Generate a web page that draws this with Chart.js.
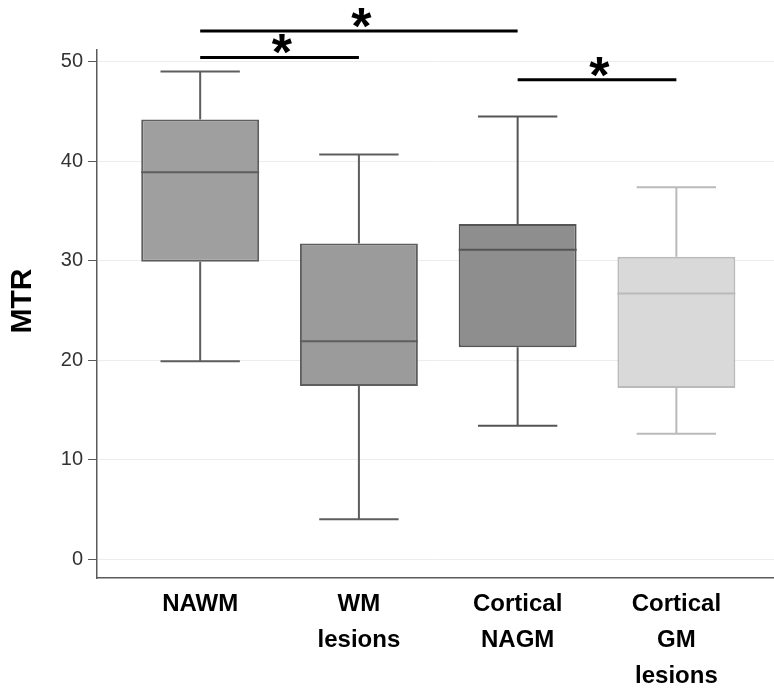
<!DOCTYPE html>
<html><head><meta charset="utf-8">
<script src="https://cdn.jsdelivr.net/npm/chart.js@4"></script>
<style>html,body{margin:0;padding:0;background:#fff}#wrap{width:774px;height:693px;position:relative}</style>
</head><body><div id="wrap"><canvas id="c"></canvas></div>
<script>
// ---- data ----
const categories = ['NAWM', 'WM lesions', 'Cortical NAGM', 'Cortical GM lesions'];
const tickLabels = [['NAWM'], ['WM', 'lesions'], ['Cortical', 'NAGM'], ['Cortical', 'GM', 'lesions']];
const whiskerMin = [19.9, 4.0, 13.4, 12.6];
const q1 = [29.9, 17.4, 21.3, 17.2];
const median = [38.9, 21.9, 31.1, 26.7];
const q3 = [44.2, 31.75, 33.7, 30.4];
const whiskerMax = [49.05, 40.7, 44.5, 37.4];
const yTicks = [0, 10, 20, 30, 40, 50];
const yTitle = 'MTR';
const sigStart = ['NAWM', 'NAWM', 'Cortical NAGM'];
const sigEnd = ['Cortical NAGM', 'WM lesions', 'Cortical GM lesions'];
const sigLevel = [53.1, 50.45, 48.2];
const sigMark = ['*', '*', '*'];

// ---- style ----
const fills = ['#9f9f9f', '#9b9b9b', '#8e8e8e', '#d9d9d9'];
const strokes = ['#5e5e5e', '#5e5e5e', '#555555', '#bababa'];
const BOX_HALF = 0.3715, CAP_HALF = 0.25;
const FONT = '"Liberation Sans", Arial, Helvetica, sans-serif';

const pos = name => categories.indexOf(name) + 1;
const gap = x => ({x: x, y: null});

const whiskerSets = categories.map((c, i) => {
  const x = i + 1;
  return {
    type: 'line',
    data: [
      {x: x, y: q3[i]}, {x: x, y: whiskerMax[i]}, gap(x),
      {x: x - CAP_HALF, y: whiskerMax[i]}, {x: x + CAP_HALF, y: whiskerMax[i]}, gap(x),
      {x: x, y: q1[i]}, {x: x, y: whiskerMin[i]}, gap(x),
      {x: x - CAP_HALF, y: whiskerMin[i]}, {x: x + CAP_HALF, y: whiskerMin[i]}, gap(x),
      {x: x - BOX_HALF, y: median[i]}, {x: x + BOX_HALF, y: median[i]}
    ],
    borderColor: strokes[i], borderWidth: 2, pointRadius: 0, spanGaps: false,
    tension: 0, fill: false, order: 1, borderCapStyle: 'butt'
  };
});

const sigData = [];
sigLevel.forEach((lv, k) => {
  sigData.push({x: pos(sigStart[k]), y: lv}, {x: pos(sigEnd[k]), y: lv}, gap(pos(sigEnd[k])));
});

const textPlugin = {
  id: 'texts',
  afterDatasetsDraw(chart) {
    const ctx = chart.ctx, xs = chart.scales.x, ys = chart.scales.y, ca = chart.chartArea;
    ctx.save();
    ctx.font = 'bold 52px ' + FONT;
    ctx.fillStyle = '#000';
    ctx.textAlign = 'center';
    ctx.textBaseline = 'alphabetic';
    sigLevel.forEach((lv, k) => {
      const xm = xs.getPixelForValue((pos(sigStart[k]) + pos(sigEnd[k])) / 2 + 0.015);
      const ly = ys.getPixelForValue(lv);
      const m = ctx.measureText(sigMark[k]);
      const base = ly - 3 - m.actualBoundingBoxDescent;
      ctx.fillText(sigMark[k], xm, base);
    });
    // y-axis title
    ctx.font = 'bold 30px ' + FONT;
    ctx.textBaseline = 'middle';
    ctx.translate(ca.left - 74.5, (ca.top + ca.bottom) / 2 - 13);
    ctx.rotate(-Math.PI / 2);
    ctx.fillText(yTitle, 0, 0);
    ctx.restore();
  }
};

new Chart(document.getElementById('c'), {
  type: 'line',
  data: {
    datasets: [
      {
        type: 'bar',
        data: categories.map((c, i) => ({x: i + 1, y: [q1[i], q3[i]]})),
        backgroundColor: fills, borderColor: strokes, borderWidth: 2,
        borderSkipped: false, barPercentage: 2 * BOX_HALF, categoryPercentage: 1, order: 3
      },
      ...whiskerSets,
      {
        type: 'line', data: sigData, borderColor: '#000', borderWidth: 3,
        pointRadius: 0, spanGaps: false, clip: false, order: 0, borderCapStyle: 'butt'
      }
    ]
  },
  options: {
    responsive: true, maintainAspectRatio: false, animation: false,
    layout: {padding: {top: 50, right: 0, left: 0, bottom: 0}},
    plugins: {legend: {display: false}, tooltip: {enabled: false}},
    scales: {
      x: {
        type: 'linear', min: 0.35, max: 4.615, offset: false,
        afterBuildTicks: s => { s.ticks = categories.map((c, i) => ({value: i + 1})); },
        afterFit: s => { s.height = 115; },
        ticks: {
          autoSkip: false, maxRotation: 0, minRotation: 0, padding: 8, color: '#000',
          font: {family: FONT, size: 24, weight: 'bold', lineHeight: 1.5},
          callback: (v, idx) => tickLabels[idx]
        },
        grid: {display: false, drawTicks: false},
        border: {display: true, color: '#5a5a5a', width: 1.5}
      },
      y: {
        type: 'linear', min: -1.9, max: 51.2,
        afterBuildTicks: s => { s.ticks = yTicks.map(v => ({value: v})); },
        afterFit: s => { s.width = 97; },
        ticks: {padding: 5, color: '#333', font: {family: FONT, size: 20}},
        grid: {color: '#ececec', lineWidth: 1, tickLength: 9, tickColor: '#5a5a5a', drawTicks: true},
        border: {display: true, color: '#5a5a5a', width: 1.5}
      }
    }
  },
  plugins: [textPlugin]
});
</script>
</body></html>
